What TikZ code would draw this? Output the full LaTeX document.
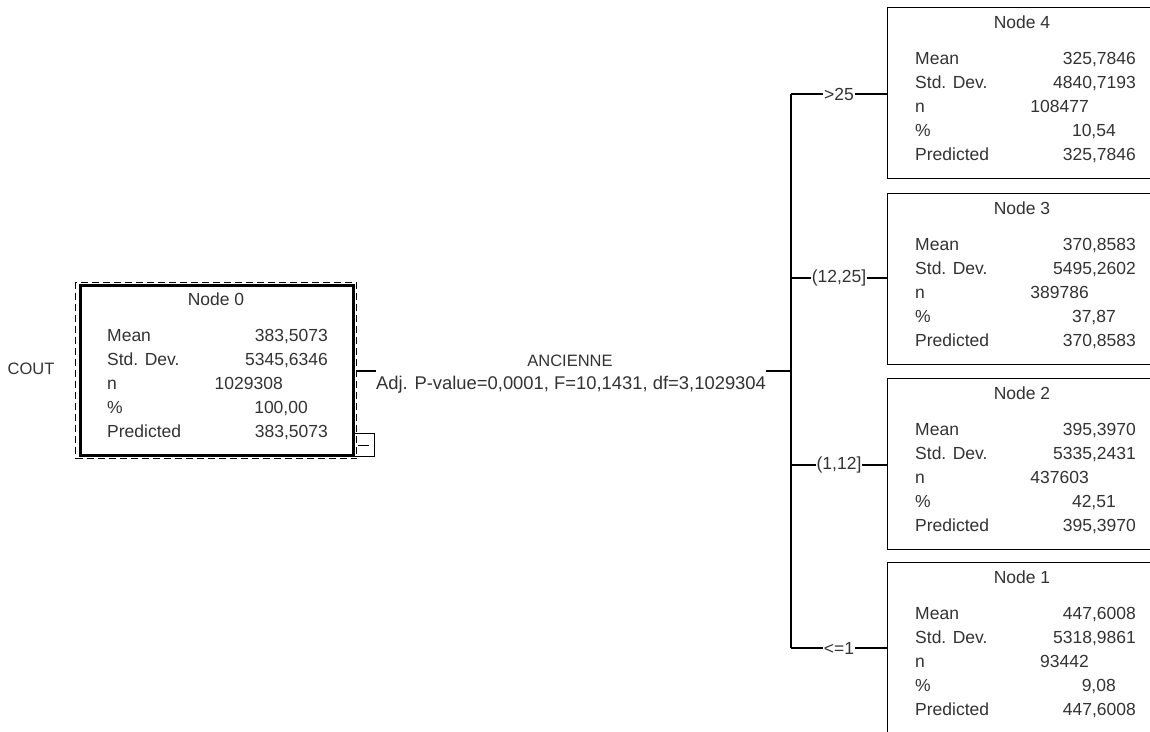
\documentclass[tikz,border=0pt]{standalone}
\usepackage{fontspec}
\setmainfont{Liberation Sans}
\newcommand\cbox[8]{%
  \node[box] (#1) at (887,#2) {};
  \node[txt, anchor=base] (#1t) at (1022,{#2+21}) {#3};
  \node[lab] (#1a) at (915,{#2+57}) {Mean};
  \node[val] (#1b) at (1136,{#2+57}) {#4};
  \node[lab] (#1c) at (915,{#2+81}) {Std. Dev.};
  \node[val] (#1d) at (1136,{#2+81}) {#5};
  \node[lab] (#1e) at (915,{#2+105}) {n};
  \node[val] (#1f) at (1089,{#2+105}) {#6};
  \node[lab] (#1g) at (915,{#2+129}) {\%};
  \node[val] (#1h) at (1116,{#2+129}) {#7};
  \node[lab] (#1i) at (915,{#2+153}) {Predicted};
  \node[val] (#1j) at (1136,{#2+153}) {#8};
}
\begin{document}
\begin{tikzpicture}[x=1pt,y=-1pt,
  font=\fontsize{17.5}{20}\selectfont,
  txt/.style={inner sep=0pt, text=black!80},
  lab/.style={txt, anchor=base west},
  val/.style={txt, anchor=base east},
  box/.style={draw, line width=1.3pt, minimum width=270pt, minimum height=171pt, anchor=north west, inner sep=0pt},
  brl/.style={txt, fill=white, inner xsep=1pt, inner ysep=0pt},
  conn/.style={line width=1.2pt}]
\useasboundingbox (0,0) rectangle (1150,731);
\clip (0,0) rectangle (1150,731);
\fill[white] (0,0) rectangle (1150,731);

% root node
\node[draw, dash pattern=on 7pt off 4pt, line width=1.3pt, minimum width=281pt, minimum height=176pt, anchor=north west, inner sep=0pt] (n0o) at (75,282) {};
\node[draw, line width=3pt, minimum width=273pt, minimum height=170pt, anchor=north west, inner sep=0pt] (n0) at (79,284) {};
\node[draw, line width=1pt, minimum width=22pt, minimum height=23pt, anchor=north west, inner sep=0pt] (mn) at (352,433) {};
\draw[line width=1pt] ([xshift=-6pt]mn.center) -- ([xshift=5pt]mn.center);
\node[txt, anchor=base] (n0t) at (216,305) {Node 0};
\node[lab] (n0a) at (107,341) {Mean};
\node[val] (n0b) at (328,341) {383,5073};
\node[lab] (n0c) at (107,365) {Std. Dev.};
\node[val] (n0d) at (328,365) {5345,6346};
\node[lab] (n0e) at (107,389) {n};
\node[val] (n0f) at (283,389) {1029308};
\node[lab] (n0g) at (107,413) {\%};
\node[val] (n0h) at (308,413) {100,00};
\node[lab] (n0i) at (107,437) {Predicted};
\node[val] (n0j) at (328,437) {383,5073};
\node[txt, anchor=base, font=\fontsize{16.5}{20}\selectfont] (cout) at (31,374) {COUT};

% split
\node[txt, anchor=base, font=\fontsize{16.5}{20}\selectfont] (anc) at (570,366) {ANCIENNE};
\node[txt, anchor=base, font=\fontsize{18.4}{20}\selectfont] (adj) at (571,389) {Adj. P-value=0,0001, F=10,1431, df=3,1029304};
\coordinate (sp) at (791,371);
\draw[conn] (n0o.east |- sp) -- (sp -| adj.west);
\draw[conn] (sp -| adj.east) -- (sp);

% children
\cbox{n4}{7}{Node 4}{325,7846}{4840,7193}{108477}{10,54}{325,7846}
\cbox{n3}{193}{Node 3}{370,8583}{5495,2602}{389786}{37,87}{370,8583}
\cbox{n2}{378}{Node 2}{395,3970}{5335,2431}{437603}{42,51}{395,3970}
\cbox{n1}{562}{Node 1}{447,6008}{5318,9861}{93442}{9,08}{447,6008}

\coordinate (b4) at (791,94);
\coordinate (b3) at (791,278);
\coordinate (b2) at (791,465);
\coordinate (b1) at (791,648);
\draw[conn] (b4) -- (b1);
\draw[conn] (b4) -- node[brl] {>25} (b4 -| n4.west);
\draw[conn] (b3) -- node[brl] {(12,25]} (b3 -| n3.west);
\draw[conn] (b2) -- node[brl] {(1,12]} (b2 -| n2.west);
\draw[conn] (b1) -- node[brl] {<=1} (b1 -| n1.west);
\end{tikzpicture}
\end{document}
